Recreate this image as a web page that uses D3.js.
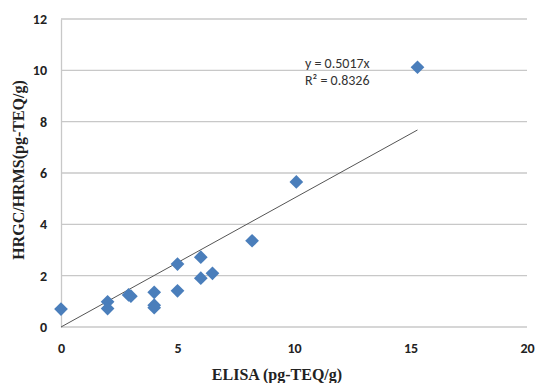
<!DOCTYPE html>
<html>
<head>
<meta charset="utf-8">
<script src="https://cdn.jsdelivr.net/npm/d3@7"></script>
<style>
  body { margin: 0; background: #fff; }
  svg { display: block; }
  .tick text { font-family: Carlito, "Liberation Sans", Arial, sans-serif; font-weight: bold; font-size: 14px; fill: #222; }
  .axis-title { font-family: "Liberation Serif", "Times New Roman", serif; font-weight: bold; font-size: 16px; fill: #222; }
  .eq { font-family: Carlito, "Open Sans", "Liberation Sans", sans-serif; font-size: 14px; fill: #333; }
</style>
</head>
<body>
<svg id="chart" width="538" height="383"></svg>
<script>
// ELISA vs HRGC/HRMS values
const elisa = [0, 2, 2, 2.9, 3.0, 4, 4, 4, 5, 5, 6, 6, 6.5, 8.2, 10.1, 15.3];
const hrms  = [0.7, 0.98, 0.72, 1.25, 1.2, 1.35, 0.85, 0.75, 2.45, 1.41, 2.72, 1.9, 2.09, 3.36, 5.65, 10.12];
const xTicks = [0, 5, 10, 15, 20];
const yTicks = [0, 2, 4, 6, 8, 10, 12];
const slope = 0.5017;
const eqLines = ['y = 0.5017x', 'R² = 0.8326'];

const svg = d3.select('#chart');
const margin = { top: 19, right: 11, bottom: 56, left: 61 };
const width = 538 - margin.left - margin.right;
const height = 383 - margin.top - margin.bottom;

const x = d3.scaleLinear().domain([0, 20]).range([0, width]);
const y = d3.scaleLinear().domain([0, 12]).range([height, 0]);

const g = svg.append('g')
	.attr('transform', `translate(${margin.left},${margin.top})`);

// gridlines
g.selectAll('.grid')
	.data(yTicks)
	.enter().append('line')
	.attr('class', 'grid')
	.attr('x1', 0).attr('x2', width)
	.attr('y1', d => y(d)).attr('y2', d => y(d))
	.attr('stroke', '#c8c8c8')
	.attr('stroke-width', 1.3);

// y axis
const yAxis = g.append('g')
	.call(d3.axisLeft(y).tickValues(yTicks).tickSize(0).tickPadding(14));
yAxis.select('.domain').attr('stroke', '#c8c8c8').attr('stroke-width', 1.3);

// x axis
const xAxis = g.append('g')
	.attr('transform', `translate(0,${height})`)
	.call(d3.axisBottom(x).tickValues(xTicks).tickSize(0).tickPadding(16));
xAxis.select('.domain').remove();

// trend line
const xMax = d3.max(elisa);
g.append('line')
	.attr('x1', x(0)).attr('y1', y(0))
	.attr('x2', x(xMax)).attr('y2', y(slope * xMax))
	.attr('stroke', '#555')
	.attr('stroke-width', 1);

// points
const diamond = d3.symbol().type(d3.symbolDiamond2).size(120);
g.selectAll('.pt')
	.data(elisa.map((v, i) => [v, hrms[i]]))
	.enter().append('path')
	.attr('class', 'pt')
	.attr('d', diamond)
	.attr('transform', d => `translate(${x(d[0])},${y(d[1])})`)
	.attr('fill', '#4a7ebb');

// equation
g.selectAll('.eq')
	.data(eqLines)
	.enter().append('text')
	.attr('class', 'eq')
	.attr('x', x(10.47))
	.attr('y', (d, i) => y(10) - 2 + i * 17)
	.text(d => d);

// axis titles
svg.append('text')
	.attr('class', 'axis-title')
	.attr('x', 277).attr('y', 380)
	.attr('text-anchor', 'middle')
	.text('ELISA (pg-TEQ/g)');

svg.append('text')
	.attr('class', 'axis-title')
	.attr('transform', 'translate(24,170) rotate(-90)')
	.attr('text-anchor', 'middle')
	.text('HRGC/HRMS(pg-TEQ/g)');
</script>
</body>
</html>
